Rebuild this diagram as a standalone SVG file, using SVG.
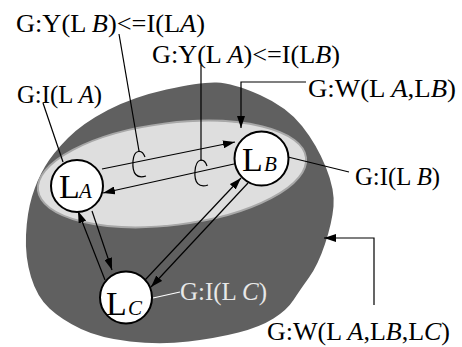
<svg xmlns="http://www.w3.org/2000/svg" width="462" height="347" viewBox="0 0 462 347">
<style>
.lbl{font-size:25px}
.big{font-size:34px}
.sub{font-size:21px;font-style:italic}
.it{font-style:italic}
.ln{stroke:#000;stroke-width:1.2;fill:none}
.node{fill:#fff;stroke:#000;stroke-width:2}
</style>
<defs>
<marker id="ah" viewBox="0 0 12 8" refX="12" refY="4" markerWidth="12" markerHeight="8" markerUnits="userSpaceOnUse" orient="auto">
<path d="M0,0 L12,4 L0,8 Z" fill="#000"/>
</marker>
</defs>
<g id="regions">
<path d="M108,110 Q133,97 166.5,89.5 Q200,82 216.5,82.5 Q233,83 260,95 Q287,107 302,126 Q317,145 326,167.5 Q335,190 333.5,206.5 Q332,223 325,244 Q318,265 309,277.5 Q300,290 293.5,300 Q287,310 273.5,318.5 Q260,327 238.5,332.5 Q217,338 188.5,341.5 Q160,345 130,341.5 Q100,338 81,329 Q62,320 49.5,308.5 Q37,297 31,277 Q25,257 26,235 Q27,213 32,196.5 Q37,180 45,166.5 Q53,153 68,138 Q83,123 108,110 Z" fill="#606060"/>
<ellipse cx="172" cy="174" rx="135" ry="51" transform="rotate(-7 172 174)" fill="#dedede" stroke="#a8a8a8" stroke-width="2"/>
</g>
<g id="connectors">
<line class="ln" x1="102" y1="169" x2="235" y2="142" marker-end="url(#ah)"/>
<line class="ln" x1="234" y1="164" x2="103" y2="193" marker-end="url(#ah)"/>
<line class="ln" x1="105" y1="280" x2="78" y2="211" marker-end="url(#ah)"/>
<line class="ln" x1="92" y1="211" x2="112" y2="270" marker-end="url(#ah)"/>
<line class="ln" x1="145" y1="280" x2="241" y2="178" marker-end="url(#ah)"/>
<line class="ln" x1="248" y1="183" x2="151" y2="287" marker-end="url(#ah)"/>
<path class="ln" stroke-width="1.8" d="M145,157 C142,149 134,149 133,161 C132,174 137,179 146,176"/>
<path class="ln" stroke-width="1.8" d="M207,166 C204,157 196,158 195,171 C194,183 199,188 208,185"/>
<line class="ln" x1="119" y1="34" x2="139" y2="151"/>
<line class="ln" x1="201" y1="65" x2="201" y2="161"/>
<line class="ln" x1="43" y1="103" x2="63" y2="162"/>
<polyline class="ln" points="306,82 241,82 241,128" marker-end="url(#ah)"/>
<line class="ln" x1="288" y1="157" x2="349" y2="172"/>
<polyline class="ln" points="374,305 374,238 324,238" marker-end="url(#ah)"/>
<line x1="153" y1="298" x2="180" y2="292" stroke="#fff" stroke-width="1.2"/>
</g>
<g id="LA" font-family="'Liberation Serif', 'Times New Roman', serif">
<circle class="node" cx="77" cy="186" r="26"/>
<text class="big" x="59" y="198">L</text>
<text class="sub" x="79" y="198">A</text>
</g>
<g id="LB" font-family="'Liberation Serif', 'Times New Roman', serif">
<circle class="node" cx="261.5" cy="158.5" r="27"/>
<text class="big" x="242" y="171">L</text>
<text class="sub" x="264" y="171">B</text>
</g>
<g id="LC" font-family="'Liberation Serif', 'Times New Roman', serif">
<circle class="node" cx="126" cy="297.5" r="26"/>
<text class="big" x="106" y="315">L</text>
<text class="sub" x="128" y="315">C</text>
</g>
<g id="labels" font-family="'Liberation Serif', 'Times New Roman', serif">
<text class="lbl" x="16" y="32" textLength="189" lengthAdjust="spacingAndGlyphs">G:Y(L <tspan class="it">B</tspan>)&lt;=I(L<tspan class="it">A</tspan>)</text>
<text class="lbl" x="152" y="63" textLength="188" lengthAdjust="spacingAndGlyphs">G:Y(L <tspan class="it">A</tspan>)&lt;=I(L<tspan class="it">B</tspan>)</text>
<text class="lbl" x="17" y="103" textLength="85" lengthAdjust="spacingAndGlyphs">G:I(L <tspan class="it">A</tspan>)</text>
<text class="lbl" x="308" y="97" textLength="148" lengthAdjust="spacingAndGlyphs">G:W(L <tspan class="it">A</tspan>,L<tspan class="it">B</tspan>)</text>
<text class="lbl" x="355" y="185" textLength="85" lengthAdjust="spacingAndGlyphs">G:I(L <tspan class="it">B</tspan>)</text>
<text class="lbl" x="267" y="340" textLength="183" lengthAdjust="spacingAndGlyphs">G:W(L <tspan class="it">A</tspan>,L<tspan class="it">B</tspan>,L<tspan class="it">C</tspan>)</text>
<text class="lbl" x="180" y="300" textLength="87" lengthAdjust="spacingAndGlyphs" fill="#e8e8e8">G:I(L <tspan class="it">C</tspan>)</text>
</g>
</svg>
